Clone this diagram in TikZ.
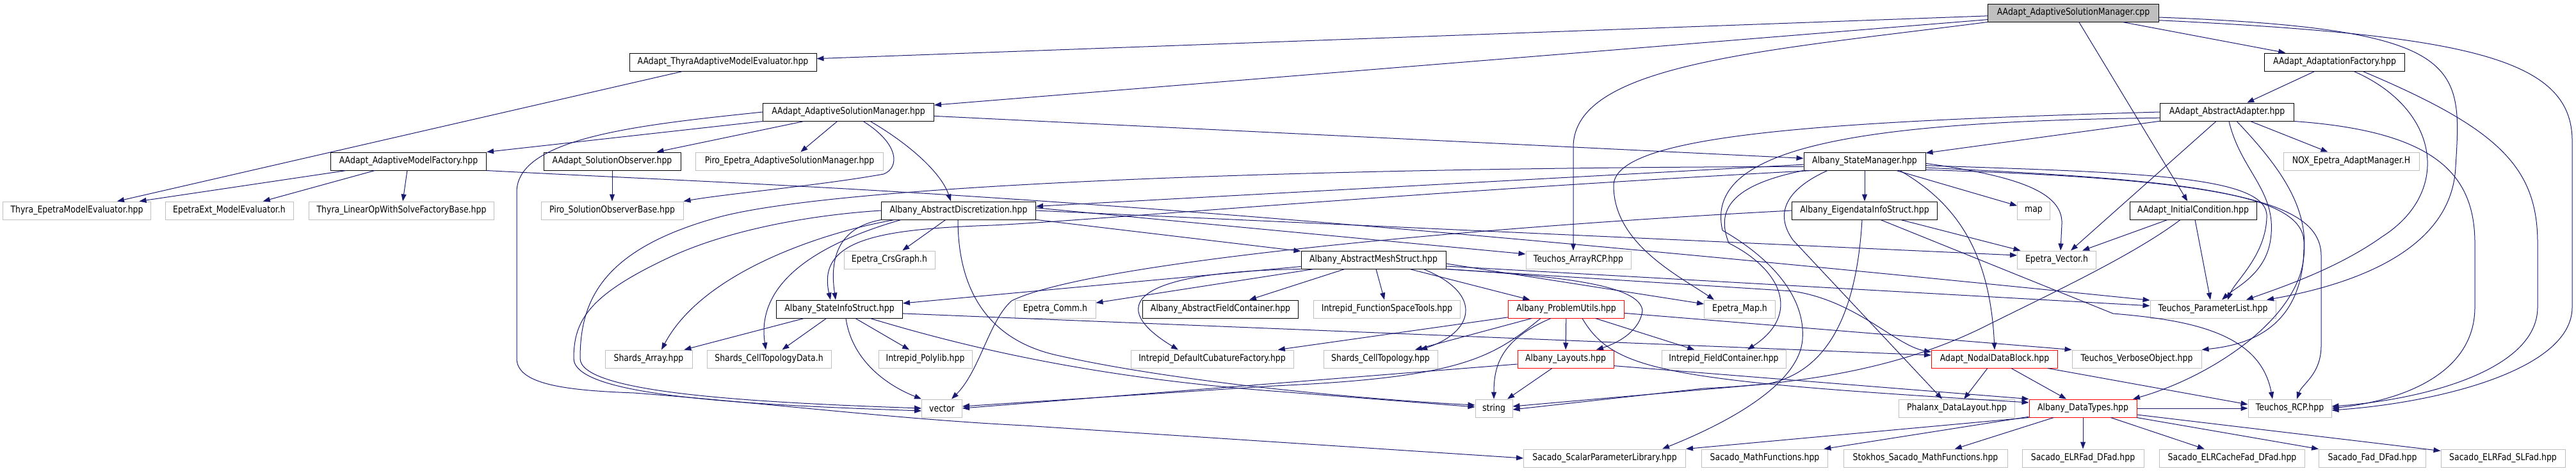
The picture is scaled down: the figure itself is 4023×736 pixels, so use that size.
\documentclass[tikz,border=0pt]{standalone}
\usepackage{fontspec}
\setmainfont{DejaVu Sans}[FakeStretch=0.85]
\usepackage{tikz}
\usetikzlibrary{arrows.meta}
\definecolor{edgeblue}{RGB}{25,25,112}
\definecolor{grey75}{RGB}{191,191,191}

\begin{document}
\begin{tikzpicture}[
    x=1pt, y=-1pt,
    every node/.style={font=\fontsize{14.7pt}{16pt}\selectfont},
    box/.style={rectangle,fill=white,minimum height=28pt,inner sep=0pt,line width=1pt},
    docnode/.style={box,draw=black},
    extnode/.style={box,draw=grey75},
    truncnode/.style={box,draw=red},
    rootnode/.style={box,draw=black,fill=grey75},
    dep/.style={-{Triangle[length=11pt,width=8pt]},draw=edgeblue,line width=1pt}
  ]
    \useasboundingbox (0,0) rectangle (4023,736);

    \node[rootnode,minimum width=267] (root) at (3238,20) {AAdapt\_AdaptiveSolutionManager.cpp};
    \node[docnode,minimum width=292] (thyraAME) at (1129,97) {AAdapt\_ThyraAdaptiveModelEvaluator.hpp};
    \node[docnode,minimum width=219] (adaptFac) at (3646,97) {AAdapt\_AdaptationFactory.hpp};
    \node[docnode,minimum width=267] (asmHpp) at (1325,175) {AAdapt\_AdaptiveSolutionManager.hpp};
    \node[docnode,minimum width=209] (absAdapter) at (3478,175) {AAdapt\_AbstractAdapter.hpp};
    \node[docnode,minimum width=243] (modelFac) at (638,252) {AAdapt\_AdaptiveModelFactory.hpp};
    \node[docnode,minimum width=214] (solObs) at (956,252) {AAdapt\_SolutionObserver.hpp};
    \node[extnode,minimum width=293] (piroASM) at (1233,252) {Piro\_Epetra\_AdaptiveSolutionManager.hpp};
    \node[docnode,minimum width=190] (stateMgr) at (2912,252) {Albany\_StateManager.hpp};
    \node[extnode,minimum width=212] (nox) at (3672,252) {NOX\_Epetra\_AdaptManager.H};
    \node[extnode,minimum width=231] (thyraEME) at (120,329) {Thyra\_EpetraModelEvaluator.hpp};
    \node[extnode,minimum width=200] (epetraExtME) at (358,329) {EpetraExt\_ModelEvaluator.h};
    \node[extnode,minimum width=289] (thyraLOWS) at (627,329) {Thyra\_LinearOpWithSolveFactoryBase.hpp};
    \node[extnode,minimum width=222] (piroSOB) at (956,329) {Piro\_SolutionObserverBase.hpp};
    \node[docnode,minimum width=241] (absDisc) at (1497,329) {Albany\_AbstractDiscretization.hpp};
    \node[docnode,minimum width=227] (eigen) at (2912,329) {Albany\_EigendataInfoStruct.hpp};
    \node[extnode,minimum width=51] (map) at (3176,329) {map};
    \node[docnode,minimum width=198] (initCond) at (3425,329) {AAdapt\_InitialCondition.hpp};
    \node[extnode,minimum width=142] (crsGraph) at (1389,406) {Epetra\_CrsGraph.h};
    \node[docnode,minimum width=226] (absMesh) at (2145,406) {Albany\_AbstractMeshStruct.hpp};
    \node[extnode,minimum width=164] (arrayRCP) at (2465,406) {Teuchos\_ArrayRCP.hpp};
    \node[extnode,minimum width=123] (epetraVec) at (3212,406) {Epetra\_Vector.h};
    \node[docnode,minimum width=197] (stateInfo) at (1311,483) {Albany\_StateInfoStruct.hpp};
    \node[extnode,minimum width=126] (epetraComm) at (1648,483) {Epetra\_Comm.h};
    \node[docnode,minimum width=243] (absFieldCont) at (1906,483) {Albany\_AbstractFieldContainer.hpp};
    \node[extnode,minimum width=229] (funcSpace) at (2166,483) {Intrepid\_FunctionSpaceTools.hpp};
    \node[truncnode,minimum width=181] (probUtils) at (2446,483) {Albany\_ProblemUtils.hpp};
    \node[extnode,minimum width=111] (epetraMap) at (2717,483) {Epetra\_Map.h};
    \node[extnode,minimum width=196] (paramList) at (3456,483) {Teuchos\_ParameterList.hpp};
    \node[extnode,minimum width=136] (shardsArray) at (1013,561) {Shards\_Array.hpp};
    \node[extnode,minimum width=194] (cellTopoData) at (1201,561) {Shards\_CellTopologyData.h};
    \node[extnode,minimum width=146] (polylib) at (1445,561) {Intrepid\_Polylib.hpp};
    \node[extnode,minimum width=254] (defCubature) at (1893,561) {Intrepid\_DefaultCubatureFactory.hpp};
    \node[extnode,minimum width=178] (cellTopo) at (2156,561) {Shards\_CellTopology.hpp};
    \node[truncnode,minimum width=150] (layouts) at (2445,561) {Albany\_Layouts.hpp};
    \node[extnode,minimum width=194] (fieldCont) at (2692,561) {Intrepid\_FieldContainer.hpp};
    \node[truncnode,minimum width=197] (nodalData) at (3115,561) {Adapt\_NodalDataBlock.hpp};
    \node[extnode,minimum width=202] (verbose) at (3337,561) {Teuchos\_VerboseObject.hpp};
    \node[extnode,minimum width=63] (vector) at (1471,638) {vector};
    \node[extnode,minimum width=58] (string) at (2333,638) {string};
    \node[extnode,minimum width=181] (phalanx) at (3056,638) {Phalanx\_DataLayout.hpp};
    \node[truncnode,minimum width=168] (dataTypes) at (3253,638) {Albany\_DataTypes.hpp};
    \node[extnode,minimum width=130] (rcp) at (3576,638) {Teuchos\_RCP.hpp};
    \node[extnode,minimum width=253] (sacadoSPL) at (2506,716) {Sacado\_ScalarParameterLibrary.hpp};
    \node[extnode,minimum width=197] (sacadoMath) at (2756,716) {Sacado\_MathFunctions.hpp};
    \node[extnode,minimum width=256] (stokhos) at (3007,716) {Stokhos\_Sacado\_MathFunctions.hpp};
    \node[extnode,minimum width=190] (elrFad) at (3253,716) {Sacado\_ELRFad\_DFad.hpp};
    \node[extnode,minimum width=227] (elrCache) at (3486,716) {Sacado\_ELRCacheFad\_DFad.hpp};
    \node[extnode,minimum width=167] (fadDFad) at (3705,716) {Sacado\_Fad\_DFad.hpp};
    \node[extnode,minimum width=194] (slFad) at (3909,716) {Sacado\_ELRFad\_SLFad.hpp};

    \draw[dep] (root) -- (thyraAME);
    \draw[dep] (root) -- (asmHpp);
    \draw[dep] (root) -- (adaptFac);
    \draw[dep] (root) -- (initCond);
    \draw[dep] (root.south west) .. controls (2750,80) and (2457,100) .. (2457,230) -- ([xshift=-8pt]arrayRCP.north);
    \draw[dep] (root.-3) .. controls (3850,45) and (3845,100) .. (3835,260) .. controls (3830,380) and (3700,440) .. ([xshift=84pt]paramList.north);
    \draw[dep] (root.-5) .. controls (3850,55) and (4017,90) .. (4017,220) -- (4017,480) .. controls (4017,580) and (3800,630) .. ([yshift=-3pt]rcp.east);

    \draw[dep] (adaptFac) -- (absAdapter);
    \draw[dep] ([xshift=30pt]adaptFac.south) .. controls (3810,170) and (3830,300) .. (3720,370) .. controls (3650,420) and (3560,450) .. ([xshift=52pt]paramList.north);
    \draw[dep] ([xshift=44pt]adaptFac.south) .. controls (3900,200) and (3963,260) .. (3963,380) -- (3963,480) .. controls (3963,580) and (3780,625) .. ([yshift=3pt]rcp.east);

    \draw[dep] (absAdapter) -- (stateMgr);
    \draw[dep] (absAdapter) -- (nox);
    \draw[dep] ([xshift=-17pt]absAdapter.south) -- ([xshift=22pt]epetraVec.north);
    \draw[dep] ([xshift=3pt]absAdapter.south) .. controls (3500,270) and (3560,300) .. (3545,380) .. controls (3535,430) and (3490,450) .. ([xshift=14pt]paramList.north);
    \draw[dep] ([xshift=15pt]absAdapter.south) .. controls (3570,270) and (3605,330) .. (3598,400) .. controls (3590,500) and (3450,590) .. ([xshift=78pt]dataTypes.north);
    \draw[dep] (absAdapter.south east) .. controls (3800,205) and (3865,270) .. (3865,380) -- (3865,480) .. controls (3865,580) and (3760,625) .. (rcp.east);
    \draw[dep] (absAdapter.west) .. controls (2850,190) and (2520,210) .. (2520,290) .. controls (2520,380) and (2620,430) .. ([xshift=-40pt]epetraMap.north);
    \draw[dep] (absAdapter.185) .. controls (2900,190) and (2660,230) .. (2690,360) .. controls (2760,400) and (2820,460) .. (2815,530) .. controls (2810,600) and (2700,660) .. ([xshift=90pt]sacadoSPL.north);

    \draw[dep] (asmHpp.south west) -- (modelFac.north east);
    \draw[dep] (asmHpp) -- (solObs);
    \draw[dep] (asmHpp) -- (piroASM);
    \draw[dep] ([xshift=23pt]asmHpp.south) .. controls (1405,225) and (1405,262) .. (1380,272) .. controls (1280,290) and (1140,302) .. (piroSOB.north east);
    \draw[dep] ([xshift=34pt]asmHpp.south) .. controls (1420,225) and (1470,270) .. ([xshift=-12pt]absDisc.north);
    \draw[dep] (asmHpp) -- (stateMgr);
    \draw[dep] (asmHpp.west) .. controls (1000,195) and (807,215) .. (807,300) -- (807,560) .. controls (807,600) and (880,610) .. (990,614) .. controls (1200,630) and (1400,655) .. (1600,665) -- (sacadoSPL.west);

    \draw[dep] (modelFac) -- (thyraEME);
    \draw[dep] (modelFac) -- (epetraExtME);
    \draw[dep] (modelFac) -- (thyraLOWS);
    \draw[dep] (modelFac.south east) .. controls (1300,295) and (1700,300) .. (paramList.172);
    \draw[dep] (thyraAME) -- (thyraEME);
    \draw[dep] (solObs) -- (piroSOB);

    \draw[dep] (stateMgr) -- (absDisc);
    \draw[dep] (stateMgr) -- (eigen);
    \draw[dep] (stateMgr) -- (map);
    \draw[dep] (stateMgr.-170) .. controls (2200,300) and (1700,345) .. (1550,352) .. controls (1380,358) and (1275,372) .. ([xshift=-14pt]stateInfo.north);
    \draw[dep] (stateMgr.185) .. controls (2000,262) and (1300,290) .. (1120,340) .. controls (940,390) and (906,470) .. (906,560) .. controls (906,612) and (1150,628) .. (vector.west);
    \draw[dep] (stateMgr.-2) .. controls (3150,275) and (3222,300) .. (3220,350) -- ([xshift=6pt]epetraVec.north);
    \draw[dep] (stateMgr.-4) .. controls (3350,270) and (3545,275) .. (3540,340) .. controls (3538,400) and (3490,440) .. ([xshift=23pt]paramList.north);
    \draw[dep] (stateMgr.-6) .. controls (3400,280) and (3600,300) .. (3598,380) .. controls (3600,520) and (3500,540) .. (verbose.north east);
    \draw[dep] (stateMgr.-8) .. controls (3500,280) and (3625,320) .. (3625,400) -- (3625,540) .. controls (3625,585) and (3595,600) .. ([xshift=11pt]rcp.north);
    \draw[dep] ([xshift=55pt]stateMgr.south) .. controls (3060,320) and (3108,400) .. (nodalData.north);
    \draw[dep] ([xshift=-58pt]stateMgr.south) .. controls (2780,300) and (2775,340) .. (2800,375) -- ([xshift=-23pt]phalanx.north);
    \draw[dep] (stateMgr.south west) .. controls (2700,290) and (2680,330) .. (2700,380) .. controls (2780,420) and (2815,490) .. ([xshift=37pt]fieldCont.north);

    \draw[dep] (absDisc) -- (absMesh);
    \draw[dep] (absDisc) -- (crsGraph);
    \draw[dep] (absDisc.south west) .. controls (1330,352) and (1292,380) .. ([xshift=-6pt]stateInfo.north);
    \draw[dep] ([xshift=-100pt]absDisc.south) .. controls (1300,360) and (1100,420) .. ([xshift=20pt]shardsArray.north);
    \draw[dep] ([xshift=-90pt]absDisc.south) .. controls (1280,380) and (1180,440) .. ([xshift=-5pt]cellTopoData.north);
    \draw[dep] (absDisc.west) .. controls (1280,335) and (1150,355) .. (1050,400) .. controls (920,460) and (896,500) .. (896,560) .. controls (896,618) and (1150,632) .. ([yshift=-4pt]vector.west);
    \draw[dep] ([xshift=-1pt]absDisc.south) .. controls (1496,450) and (1540,530) .. (1650,555) .. controls (1850,600) and (2150,625) .. ([yshift=5pt]string.west);
    \draw[dep] (absDisc.2) -- ([yshift=9pt]arrayRCP.west);
    \draw[dep] (absDisc.east) -- ([yshift=7pt]epetraVec.west);

    \draw[dep] (absMesh) -- (stateInfo);
    \draw[dep] (absMesh) -- (epetraComm);
    \draw[dep] (absMesh) -- (absFieldCont);
    \draw[dep] (absMesh) -- (funcSpace);
    \draw[dep] (absMesh) -- (probUtils);
    \draw[dep] (absMesh.south west) .. controls (1760,425) and (1730,480) .. ([xshift=-53pt]defCubature.north);
    \draw[dep] ([xshift=78pt]absMesh.south) .. controls (2320,460) and (2300,520) .. ([xshift=62pt]cellTopo.north);
    \draw[dep] (absMesh.south east) .. controls (2400,430) and (2560,440) .. (2565,485) .. controls (2562,515) and (2530,535) .. ([xshift=48pt]layouts.north);
    \draw[dep] (absMesh.-3) -- ([yshift=8pt]epetraMap.west);
    \draw[dep] (absMesh.-5) -- (paramList.177);
    \draw[dep] (absMesh.south east) -- (2800,455) .. controls (2900,470) and (2960,540) .. ([yshift=11pt]nodalData.west);

    \draw[dep] (stateInfo) -- (shardsArray);
    \draw[dep] (stateInfo) -- (cellTopoData);
    \draw[dep] (stateInfo) -- (polylib);
    \draw[dep] ([xshift=10pt]stateInfo.south) .. controls (1330,560) and (1380,600) .. (vector.north west);
    \draw[dep] ([xshift=48pt]stateInfo.south) .. controls (1500,540) and (1700,590) .. (2000,612) -- ([yshift=2pt]string.west);
    \draw[dep] (stateInfo.-4) -- ([yshift=6pt]nodalData.west);

    \draw[dep] (eigen) -- (epetraVec);
    \draw[dep] (eigen.west) .. controls (2300,355) and (1700,410) .. (1580,470) .. controls (1545,500) and (1530,580) .. ([xshift=15pt]vector.north);
    \draw[dep] ([xshift=-4pt]eigen.south) .. controls (2900,480) and (2860,580) .. (2760,600) -- ([yshift=3pt]string.east);
    \draw[dep] ([xshift=25pt]eigen.south) -- (3300,490) .. controls (3420,500) and (3530,520) .. ([xshift=-27pt]rcp.north);

    \draw[dep] (initCond) -- (epetraVec);
    \draw[dep] ([xshift=3pt]initCond.south) -- ([xshift=-4pt]paramList.north);
    \draw[dep] ([xshift=-20pt]initCond.south) .. controls (3330,400) and (3200,460) .. (3100,510) .. controls (2960,580) and (2800,600) .. (2660,607) -- ([yshift=-2pt]string.east);

    \draw[dep] (probUtils) -- (defCubature);
    \draw[dep] (probUtils) -- (cellTopo);
    \draw[dep] (probUtils) -- (layouts);
    \draw[dep] (probUtils) -- (fieldCont);
    \draw[dep] ([xshift=-24pt]probUtils.south) .. controls (2345,530) and (2333,570) .. (string.north);
    \draw[dep] ([xshift=-40pt]probUtils.south) .. controls (2330,560) and (2280,590) .. (1990,603) -- ([yshift=3pt]vector.east);
    \draw[dep] ([xshift=25pt]probUtils.south) .. controls (2520,580) and (2600,595) .. ([yshift=9pt]dataTypes.west);
    \draw[dep] (probUtils.-4) -- (verbose.north west);

    \draw[dep] (layouts) -- (string);
    \draw[dep] ([yshift=-8pt]layouts.west) -- (vector.east);
    \draw[dep] (layouts.-8) -- (dataTypes.north west);

    \draw[dep] (nodalData) -- (phalanx);
    \draw[dep] (nodalData) -- (dataTypes);
    \draw[dep] ([xshift=83pt]nodalData.south) -- ([yshift=6pt]rcp.west);

    \draw[dep] (dataTypes) -- (rcp);
    \draw[dep] (dataTypes.south west) -- (sacadoSPL.north east);
    \draw[dep] (dataTypes) -- (sacadoMath);
    \draw[dep] (dataTypes) -- (stokhos);
    \draw[dep] (dataTypes) -- (elrFad);
    \draw[dep] (dataTypes) -- (elrCache);
    \draw[dep] (dataTypes) -- (fadDFad);
    \draw[dep] (dataTypes) -- (slFad);
\end{tikzpicture}
\end{document}
